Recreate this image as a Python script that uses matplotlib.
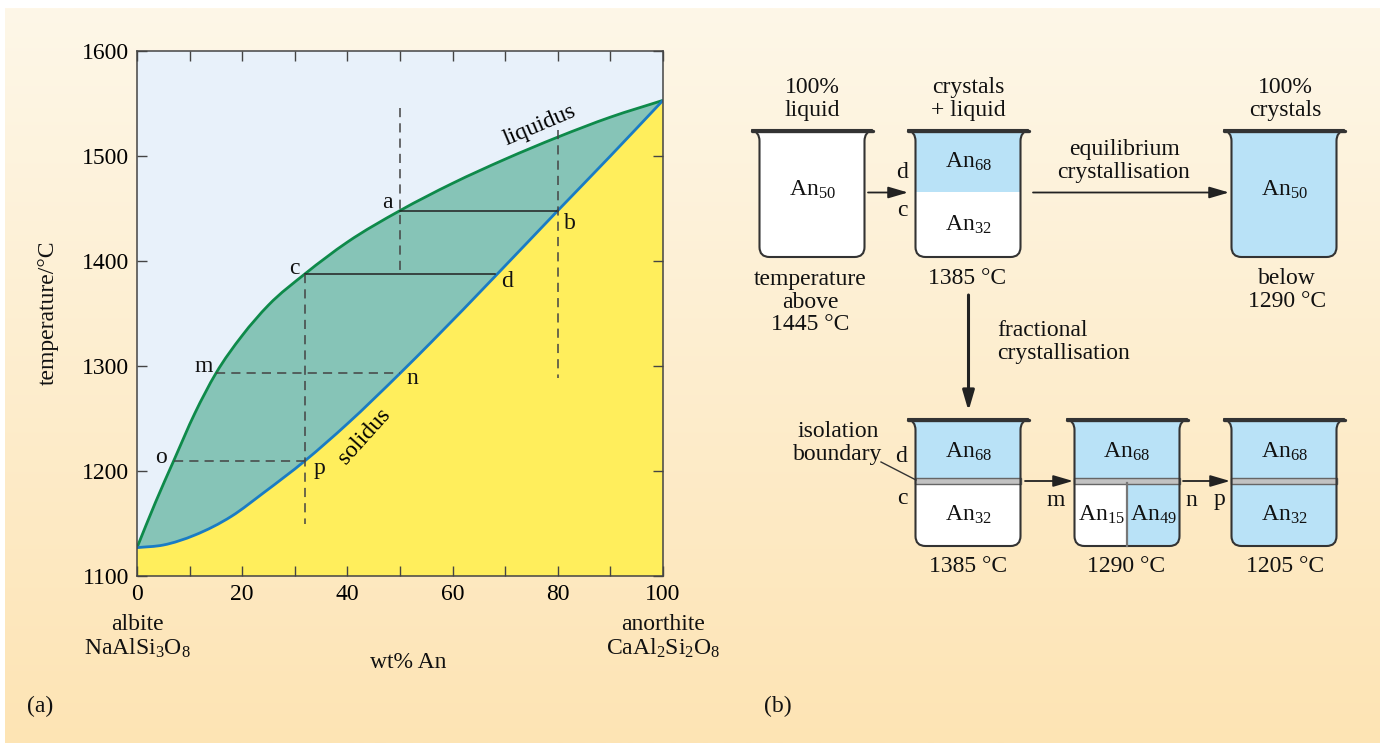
import matplotlib.pyplot as plt
import numpy as np
from matplotlib.path import Path
from matplotlib.patches import PathPatch, Rectangle

plt.rcParams['font.family'] = ['Liberation Serif', 'DejaVu Serif']
plt.rcParams['mathtext.fontset'] = 'custom'
plt.rcParams['mathtext.rm'] = 'Liberation Serif'
plt.rcParams['mathtext.it'] = 'Liberation Serif:italic'
plt.rcParams['mathtext.bf'] = 'Liberation Serif:bold'
FS = 17

# --- phase diagram (wt% An vs temperature in deg C) ---
liq_x = [0, 3.5, 7, 11, 15, 20, 25, 32, 40, 50, 60, 70, 80, 90, 100]
liq_T = [1127, 1170, 1210, 1255, 1293, 1329, 1358, 1388, 1418, 1448, 1474, 1497, 1518, 1537, 1553]
sol_x = [0, 5, 11, 18, 24, 32, 40, 50, 56, 68, 80, 90, 100]
sol_T = [1127, 1129.5, 1139, 1157, 1179, 1210, 1245, 1293, 1323, 1385, 1448, 1500, 1553]

pt_names = ['a', 'b', 'c', 'd', 'm', 'n', 'o', 'p']
pt_x = [50, 80, 32, 68, 15, 50, 7, 32]
pt_T = [1448, 1448, 1388, 1388, 1293, 1293, 1210, 1210]
# label offsets in points
pt_off = [(-9, 6), (9, -9), (-8, 4), (9, -6), (-9, 5), (9, -4), (-9, 2), (10, -6)]

# --- beaker experiment ---
An_liquid = 50
An_d = 68
An_c = 32
An_m = 15
An_n = 49
top_heads = ['100%\nliquid', 'crystals\n+ liquid', '100%\ncrystals']
top_feet = ['temperature\nabove\n1445 °C', '1385 °C', 'below\n1290 °C']
bottom_feet = ['1385 °C', '1290 °C', '1205 °C']

BLUE = '#b9e2f7'
EDGE = '#333333'


def smooth_verts(xs, ys):
    # cubic Hermite through the read points, written as Bezier segments
    x = np.asarray(xs, float)
    y = np.asarray(ys, float)
    h = np.diff(x)
    d = np.diff(y) / h
    m = np.empty_like(x)
    m[0], m[-1] = d[0], d[-1]
    m[1:-1] = (h[1:] * d[:-1] + h[:-1] * d[1:]) / (h[:-1] + h[1:])
    verts = [(x[0], y[0])]
    for i in range(len(x) - 1):
        verts += [(x[i] + h[i] / 3, y[i] + m[i] * h[i] / 3),
                  (x[i + 1] - h[i] / 3, y[i + 1] - m[i + 1] * h[i] / 3),
                  (x[i + 1], y[i + 1])]
    return verts


fig = plt.figure(figsize=(13.8, 7.43), dpi=100)

# gradient background
bg = fig.add_axes([0, 0, 1, 1], zorder=0)
grad = np.linspace(0, 1, 256)[:, None]
top_c = np.array([254, 247, 232]) / 255
bot_c = np.array([253, 228, 180]) / 255
img = top_c[None, None, :] * (1 - grad[..., None]) + bot_c[None, None, :] * grad[..., None]
bg.imshow(img, extent=(5, 1380, 743, 8), aspect='auto')
bg.set_xlim(0, 1380)
bg.set_ylim(743, 0)
bg.axis('off')

# ---------- (a) phase diagram ----------
ax = fig.add_axes([137 / 1380, 1 - 576 / 743, 526 / 1380, 525 / 743], zorder=1)
ax.set_facecolor('#e8f1fa')

liq_v = smooth_verts(liq_x, liq_T)
sol_v = smooth_verts(sol_x, sol_T)
nl, ns = len(liq_v), len(sol_v)
# two-phase region: liquidus forward, solidus backward
two_v = liq_v + sol_v[::-1][1:] + [liq_v[0]]
two_c = [Path.MOVETO] + [Path.CURVE4] * (nl - 1) + [Path.CURVE4] * (ns - 1) + [Path.CLOSEPOLY]
ax.add_patch(PathPatch(Path(two_v, two_c), facecolor='#86c4b7', edgecolor='none'))
solid_v = sol_v + [(100, 1100), (0, 1100), sol_v[0]]
solid_c = [Path.MOVETO] + [Path.CURVE4] * (ns - 1) + [Path.LINETO, Path.LINETO, Path.CLOSEPOLY]
ax.add_patch(PathPatch(Path(solid_v, solid_c), facecolor='#ffee5c', edgecolor='none'))
ax.add_patch(PathPatch(Path(liq_v, [Path.MOVETO] + [Path.CURVE4] * (nl - 1)),
                       facecolor='none', edgecolor='#0e8a4a', lw=2))
ax.add_patch(PathPatch(Path(sol_v, [Path.MOVETO] + [Path.CURVE4] * (ns - 1)),
                       facecolor='none', edgecolor='#1a7cc4', lw=2))

P = dict(zip(pt_names, zip(pt_x, pt_T)))
# tie lines
ax.plot([P['a'][0], P['b'][0]], [P['a'][1], P['b'][1]], color='#222222', lw=1.1)
ax.plot([P['c'][0], P['d'][0]], [P['c'][1], P['d'][1]], color='#222222', lw=1.1)
dash = dict(color='#444444', lw=1.1, dashes=(6, 4))
ax.plot([P['m'][0], P['n'][0]], [P['m'][1], P['n'][1]], **dash)
ax.plot([P['o'][0], P['p'][0]], [P['o'][1], P['p'][1]], **dash)
ax.plot([P['a'][0], P['a'][0]], [1546, P['c'][1]], **dash)
ax.plot([P['b'][0], P['b'][0]], [1525, 1289], **dash)
ax.plot([P['c'][0], P['c'][0]], [P['c'][1], 1150], **dash)

for name, x, t, off in zip(pt_names, pt_x, pt_T, pt_off):
    ax.annotate(name, (x, t), xytext=off, textcoords='offset points',
                ha='center', va='center', fontsize=FS, color='#111111')

ax.text(76.5, 1529, 'liquidus', rotation=23, ha='center', va='center', fontsize=FS)
ax.text(43.3, 1233, 'solidus', rotation=48, ha='center', va='center', fontsize=FS)

ax.set_xlim(0, 100)
ax.set_ylim(1100, 1600)
ax.set_xticks(range(0, 101, 20))
ax.set_xticks(range(10, 100, 20), minor=True)
ax.set_yticks(range(1100, 1601, 100))
ax.tick_params(axis='both', which='both', direction='in', length=7.5, width=1,
               color='#444444', labelsize=FS, top=True, right=True)
ax.tick_params(axis='x', pad=6)
ax.tick_params(axis='y', pad=5.5)
for s in ax.spines.values():
    s.set_color('#444444')
    s.set_linewidth(1.1)

# ---------- overlay in pixel coordinates ----------
ov = fig.add_axes([0, 0, 1, 1], zorder=2)
ov.set_xlim(0, 1380)
ov.set_ylim(743, 0)
ov.axis('off')


def txt(x, y, s, **kw):
    kw.setdefault('ha', 'center')
    kw.setdefault('va', 'center')
    kw.setdefault('fontsize', FS)
    kw.setdefault('linespacing', 1.08)
    ov.text(x, y, s, color='#111111', **kw)


def an(v):
    return 'An$_{%d}$' % v


txt(48, 313, 'temperature/°C', rotation=90)
txt(408, 662, 'wt% An')
txt(137, 637, 'albite\nNaAlSi$_3$O$_8$')
txt(663, 637, 'anorthite\nCaAl$_2$Si$_2$O$_8$')
txt(40, 706, '(a)')
txt(778, 706, '(b)')


def beaker_path(cx, top, w=105, rim=121, h=127, r=10, neck=11):
    xl, xr = cx - w / 2, cx + w / 2
    rl, rr = cx - rim / 2, cx + rim / 2
    bot = top + h
    verts = [(rl, top), (rr, top),
             (xr, top + 2), (xr, top + neck),
             (xr, bot - r),
             (xr, bot), (xr - r, bot),
             (xl + r, bot),
             (xl, bot), (xl, bot - r),
             (xl, top + neck),
             (xl, top + 2), (rl, top),
             (rl, top)]
    codes = [Path.MOVETO, Path.LINETO,
             Path.CURVE3, Path.CURVE3,
             Path.LINETO,
             Path.CURVE3, Path.CURVE3,
             Path.LINETO,
             Path.CURVE3, Path.CURVE3,
             Path.LINETO,
             Path.CURVE3, Path.CURVE3,
             Path.CLOSEPOLY]
    return Path(verts, codes)


def beaker(cx, top, regions, band=False, split=False):
    path = beaker_path(cx, top)
    base = PathPatch(path, facecolor='white', edgecolor='none')
    ov.add_patch(base)
    for (x0, y0, w, h) in regions:
        rect = Rectangle((cx + x0, top + y0), w, h, facecolor=BLUE, edgecolor='none')
        ov.add_patch(rect)
        rect.set_clip_path(base)
    if split:
        ov.plot([cx, cx], [top + 64, top + 127], color='#777777', lw=1.6)
    if band:
        rect = Rectangle((cx - 53, top + 59), 106, 5.5, facecolor='#c2c2c2',
                         edgecolor='#666666', lw=1)
        ov.add_patch(rect)
    ov.add_patch(PathPatch(path, facecolor='none', edgecolor=EDGE, lw=1.5))
    ov.plot([cx - 60.5, cx + 60.5], [top + 0.5, top + 0.5], color=EDGE, lw=2.4,
            solid_capstyle='round')


def arrow(x0, y0, x1, y1, lw=1.3):
    ov.annotate('', xy=(x1, y1), xytext=(x0, y0),
                arrowprops=dict(arrowstyle='-|>,head_length=0.75,head_width=0.22',
                                color='#222222', lw=lw, shrinkA=0, shrinkB=0,
                                mutation_scale=16))


TOP1, TOP2 = 130, 419
# top row
beaker(812, TOP1, [])
beaker(968, TOP1, [(-70, -5, 140, 67)])
beaker(1284, TOP1, [(-70, -5, 140, 140)])
# bottom row
beaker(968, TOP2, [(-70, -5, 140, 67)], band=True)
beaker(1127, TOP2, [(-70, -5, 140, 67), (0, 60, 70, 80)], band=True, split=True)
beaker(1284, TOP2, [(-70, -5, 140, 140)], band=True)

txt(812, 99, top_heads[0])
txt(968, 99, top_heads[1])
txt(1285, 99, top_heads[2])

txt(812, 190, an(An_liquid))
txt(968, 162, an(An_d))
txt(968, 225, an(An_c))
txt(1284, 190, an(An_liquid))
txt(902, 172, 'd')
txt(902, 211, 'c')

txt(810, 302, top_feet[0])
txt(967, 278, top_feet[1])
txt(1287, 290, top_feet[2])
txt(1124, 161, 'equilibrium\ncrystallisation')
arrow(868, 192.5, 908, 192.5)
arrow(1033, 192.5, 1229, 192.5)

arrow(968.5, 295, 968.5, 411, lw=2.2)
txt(997, 342, 'fractional\ncrystallisation', ha='left')

txt(838, 443, 'isolation\nboundary')
ov.plot([881, 916], [462, 480], color='#333333', lw=1)
txt(901, 457, 'd')
txt(902, 498, 'c')

txt(968, 452, an(An_d))
txt(968, 515, an(An_c))
txt(1126, 452, an(An_d))
txt(1101, 515, an(An_m))
txt(1153, 515, an(An_n))
txt(1284, 452, an(An_d))
txt(1284, 515, an(An_c))

arrow(1025, 481, 1073, 481)
arrow(1183, 481, 1230, 481)
txt(1056, 500, 'm')
txt(1191, 500, 'n')
txt(1220, 500, 'p')

txt(968, 567, bottom_feet[0])
txt(1126, 567, bottom_feet[1])
txt(1285, 567, bottom_feet[2])

fig.savefig('out.png', dpi=100, facecolor='white')
